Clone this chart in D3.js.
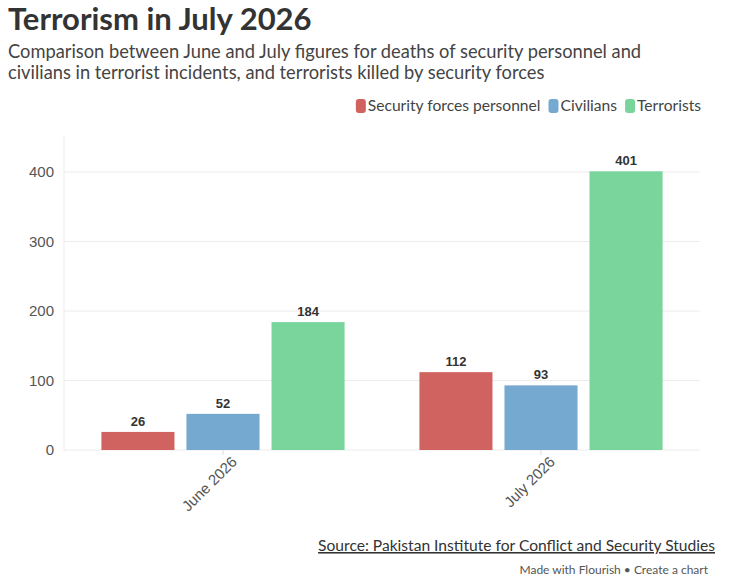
<!DOCTYPE html>
<html>
<head>
<meta charset="utf-8">
<script src="https://cdn.jsdelivr.net/npm/d3@7"></script>
<style>
  body { margin: 0; background: #fff; }
  svg { font-family: Lato, "Noto Sans", sans-serif; }
</style>
</head>
<body>
<svg id="chart" width="737" height="577"></svg>
<script>
// data
var categories = ["June 2026", "July 2026"];
var seriesNames = ["Security forces personnel", "Civilians", "Terrorists"];
var securityForces = [26, 112];
var civilians = [52, 93];
var terrorists = [184, 401];
var yTicks = [0, 100, 200, 300, 400];

var colors = ["#d0625f", "#76a9cf", "#79d59b"];
var series = [securityForces, civilians, terrorists];
var numFont = "Liberation Sans, Arial, sans-serif";

var svg = d3.select("#chart");

svg.append("text")
    .attr("x", 8).attr("y", 30)
    .style("font-size", "31px").style("font-weight", "bold")
    .attr("fill", "#333")
    .text("Terrorism in July 2026");

var sub = svg.append("text")
    .style("font-size", "18.3px").attr("fill", "#444");
sub.append("tspan").attr("x", 8).attr("y", 58)
    .text("Comparison between June and July figures for deaths of security personnel and");
sub.append("tspan").attr("x", 8).attr("y", 79)
    .text("civilians in terrorist incidents, and terrorists killed by security forces");

// legend, laid out right to left
var legend = svg.append("g");
var lx = 701;
for (var i = seriesNames.length - 1; i >= 0; i--) {
  var t = legend.append("text")
      .attr("y", 111).style("font-size", "15.6px").attr("fill", "#444")
      .attr("text-anchor", "end").attr("x", lx)
      .text(seriesNames[i]);
  var w = t.node().getComputedTextLength();
  legend.append("rect")
      .attr("x", lx - w - 12).attr("y", 99)
      .attr("width", 10).attr("height", 14).attr("rx", 3)
      .attr("fill", colors[i]);
  lx = lx - w - 12 - 8;
}

var margin = { left: 64, right: 700, top: 136, bottom: 450 };

var y = d3.scaleLinear().domain([0, 400]).range([450, 172]);
var x0 = d3.scaleBand().domain(categories).range([margin.left, margin.right]);
var x1 = d3.scaleBand().domain(d3.range(seriesNames.length))
    .range([0, x0.bandwidth()]).paddingInner(0.141).paddingOuter(0.44);

// gridlines
svg.append("g").selectAll("line")
    .data(yTicks)
  .join("line")
    .attr("x1", margin.left).attr("x2", margin.right)
    .attr("y1", function(d) { return y(d); })
    .attr("y2", function(d) { return y(d); })
    .attr("stroke", "#ececec");

svg.append("line")
    .attr("x1", margin.left).attr("x2", margin.left)
    .attr("y1", margin.top).attr("y2", y(0))
    .attr("stroke", "#ececec");

var yAxis = svg.append("g")
    .attr("transform", "translate(" + (margin.left - 10) + ",0)")
    .call(d3.axisLeft(y).tickValues(yTicks).tickSize(0).tickPadding(0));
yAxis.select(".domain").remove();
yAxis.selectAll("text")
    .style("font-family", numFont)
    .style("font-size", "15px").attr("fill", "#555");

var xAxis = svg.append("g")
    .attr("transform", "translate(0," + y(0) + ")")
    .call(d3.axisBottom(x0).tickSize(5).tickPadding(4));
xAxis.select(".domain").remove();
xAxis.selectAll("line").attr("stroke", "#ddd");
xAxis.selectAll("text")
    .style("font-family", numFont)
    .style("font-size", "15px").attr("fill", "#555")
    .attr("text-anchor", "end")
    .attr("dx", "0.1em").attr("dy", "0.7em")
    .attr("transform", "rotate(-45)");

// bars
var groups = svg.append("g").selectAll("g")
    .data(categories)
  .join("g")
    .attr("transform", function(d) { return "translate(" + x0(d) + ",0)"; });

function cells(d, ci) {
  return series.map(function(s, si) { return { si: si, v: s[ci] }; });
}

groups.selectAll("rect")
    .data(cells)
  .join("rect")
    .attr("x", function(d) { return x1(d.si); })
    .attr("width", x1.bandwidth())
    .attr("y", function(d) { return y(d.v); })
    .attr("height", function(d) { return y(0) - y(d.v); })
    .attr("fill", function(d) { return colors[d.si]; });

groups.selectAll("text")
    .data(cells)
  .join("text")
    .attr("x", function(d) { return x1(d.si) + x1.bandwidth() / 2; })
    .attr("y", function(d) { return y(d.v) - 6; })
    .attr("text-anchor", "middle")
    .style("font-family", numFont)
    .style("font-size", "13px").style("font-weight", "bold").attr("fill", "#333")
    .text(function(d) { return d.v; });

// footer
svg.append("text")
    .attr("x", 715).attr("y", 551).attr("text-anchor", "end")
    .style("font-size", "15.6px").attr("fill", "#333")
    .style("text-decoration", "underline")
    .text("Source: Pakistan Institute for Conflict and Security Studies");

svg.append("text")
    .attr("x", 708).attr("y", 574).attr("text-anchor", "end")
    .style("font-size", "12px").attr("fill", "#555")
    .text("Made with Flourish \u2022 Create a chart");
</script>
</body>
</html>
